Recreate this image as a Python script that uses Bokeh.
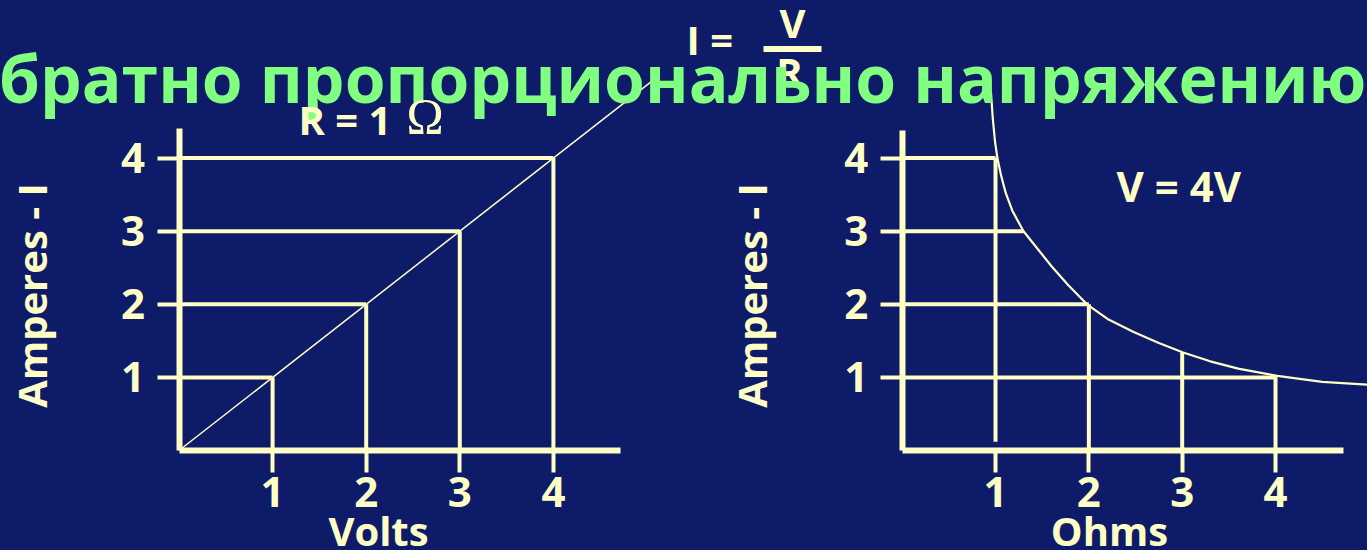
import math
from bokeh.plotting import figure
from bokeh.models import (Range1d, LinearAxis, FixedTicker, Label,
                          GlobalInlineStyleSheet)
from bokeh.embed import file_html
from bokeh.resources import INLINE

# ---------------- data ----------------
tick_values = [1, 2, 3, 4]
tick_labels = ["1", "2", "3", "4"]

# left chart: I = V / R with R = 1 ohm
left_volts = [1, 2, 3, 4]
left_amps = [1, 2, 3, 4]
diag_volts = [0, 5.07]
diag_amps = [0, 5.07]

# right chart: V = 4 V, current versus resistance
curve_ohms = [0.95, 0.97, 0.995, 1.02, 1.06, 1.11, 1.18, 1.30, 1.45, 1.60,
              1.78, 1.98, 2.20, 2.48, 2.75, 3.01, 3.30, 3.60, 4.02, 4.50, 4.98]
curve_amps = [4.92, 4.55, 4.22, 4.00, 3.76, 3.52, 3.28, 3.00, 2.76, 2.52,
              2.26, 2.00, 1.80, 1.62, 1.47, 1.34, 1.22, 1.12, 1.02, 0.94, 0.90]
h_amps = [4, 3, 2, 1]
h_ohms = [1, 1.30, 2, 4]
v_ohms = [1, 2, 3, 4]
v_amps_top = [4, 2, 1.34, 1.02]
v_amps_bottom = [0.12, 0, 0, 0]

title_text = "обратно пропорционально напряжению"

# ---------------- style ----------------
NAVY = "#0E1B69"
CREAM = "#FFFFC6"
GREEN = "#80FF80"
FONT = "Open Sans"

W, H = 1367, 550
L_X0, L_UNIT = 178.5, 93.6
R_X0, R_UNIT = 901.7, 93.33
Y0, Y_UNIT = 450.0, 73.1


def px2x(px):
    return (px - L_X0) / L_UNIT


def px2y(py):
    return (Y0 - py) / Y_UNIT


p = figure(width=W, height=H,
           x_range=Range1d(px2x(0), px2x(W)),
           y_range=Range1d(px2y(H), px2y(0)),
           x_axis_type=None, y_axis_type=None,
           output_backend="svg", toolbar_location=None,
           min_border=0, background_fill_color=NAVY,
           border_fill_color=NAVY, outline_line_color=None)
p.extra_x_ranges = {"r": Range1d(-R_X0 / R_UNIT, (W - R_X0) / R_UNIT)}
p.stylesheets = [GlobalInlineStyleSheet(
    css="html,body{margin:0!important;padding:0;background:%s;overflow:hidden}" % NAVY)]


def style_axis(ax):
    ax.axis_line_color = CREAM
    ax.axis_line_width = 6
    ax.major_tick_line_color = CREAM
    ax.major_tick_line_width = 4
    ax.major_tick_out = 22
    ax.major_tick_in = 0
    ax.minor_tick_line_color = None
    ax.major_label_text_color = CREAM
    ax.major_label_text_font = FONT
    ax.major_label_text_font_style = "bold"
    ax.major_label_text_font_size = "42px"
    ax.major_label_overrides = dict(zip(tick_values, tick_labels))
    ax.ticker = FixedTicker(ticks=tick_values, minor_ticks=[])


ax_ly = LinearAxis(fixed_location=0, bounds=(0, 4.40))
style_axis(ax_ly)
ax_ly.major_label_standoff = 12
p.add_layout(ax_ly, "left")
ax_lx = LinearAxis(fixed_location=0, bounds=(0, 4.72))
style_axis(ax_lx)
ax_lx.major_label_standoff = 4
p.add_layout(ax_lx, "below")

ax_ry = LinearAxis(x_range_name="r", fixed_location=0, bounds=(0, 4.38))
style_axis(ax_ry)
ax_ry.major_label_standoff = 12
p.add_layout(ax_ry, "left")
ax_rx = LinearAxis(x_range_name="r", fixed_location=0, bounds=(0, 4.73))
style_axis(ax_rx)
ax_rx.major_label_standoff = 4
p.add_layout(ax_rx, "below")

# left chart projections
p.segment(x0=[0] * len(left_amps), y0=left_amps, x1=left_volts, y1=left_amps,
          line_color=CREAM, line_width=4)
p.segment(x0=left_volts, y0=left_amps, x1=left_volts, y1=[0] * len(left_volts),
          line_color=CREAM, line_width=4)
p.line(diag_volts, diag_amps, line_color=CREAM, line_width=1.5)

# right chart projections
p.segment(x0=[0] * len(h_amps), y0=h_amps, x1=h_ohms, y1=h_amps,
          line_color=CREAM, line_width=4, x_range_name="r")
p.segment(x0=v_ohms, y0=v_amps_top, x1=v_ohms, y1=v_amps_bottom,
          line_color=CREAM, line_width=4, x_range_name="r")
p.line(curve_ohms, curve_amps, line_color=CREAM, line_width=2.2,
       line_join="round", x_range_name="r")


def lab(text, px, py, size=40, align="left", baseline="alphabetic",
        color=CREAM, font=FONT, style="bold", angle=0.0):
    if baseline == "alphabetic":
        py = py - 0.4 * size  # compensate renderer's baseline offset
    p.add_layout(Label(x=px2x(px), y=px2y(py), text=text, text_color=color,
                       text_font=font, text_font_style=style,
                       text_font_size="%dpx" % size, text_align=align,
                       text_baseline=baseline, angle=angle))


# formula I = V / R
lab("I =", 686, 55)
lab("V", 792, 38, align="center")
p.rect(x=[px2x(792)], y=[px2y(48.5)], width=58 / L_UNIT, height=6 / Y_UNIT,
       fill_color=CREAM, line_color=None)
lab("R", 789, 87, align="center")

# big green title line (overlaps the formula)
lab(title_text, 1366, 103, size=66, align="right", color=GREEN)

# chart annotations
lab("R = 1", 298, 135, size=40)
lab("Ω", 406, 135, size=50, font="Liberation Serif", style="normal")
lab("V = 4V", 1116, 202, size=42)

lab("Volts", 378, 546, align="center")
lab("Ohms", 1109, 546, align="center")
lab("Amperes - I", 31, 295, align="center", baseline="middle", angle=math.pi / 2)
lab("Amperes - I", 751, 295, align="center", baseline="middle", angle=math.pi / 2)

open("out.html", "w").write(file_html(p, INLINE))
